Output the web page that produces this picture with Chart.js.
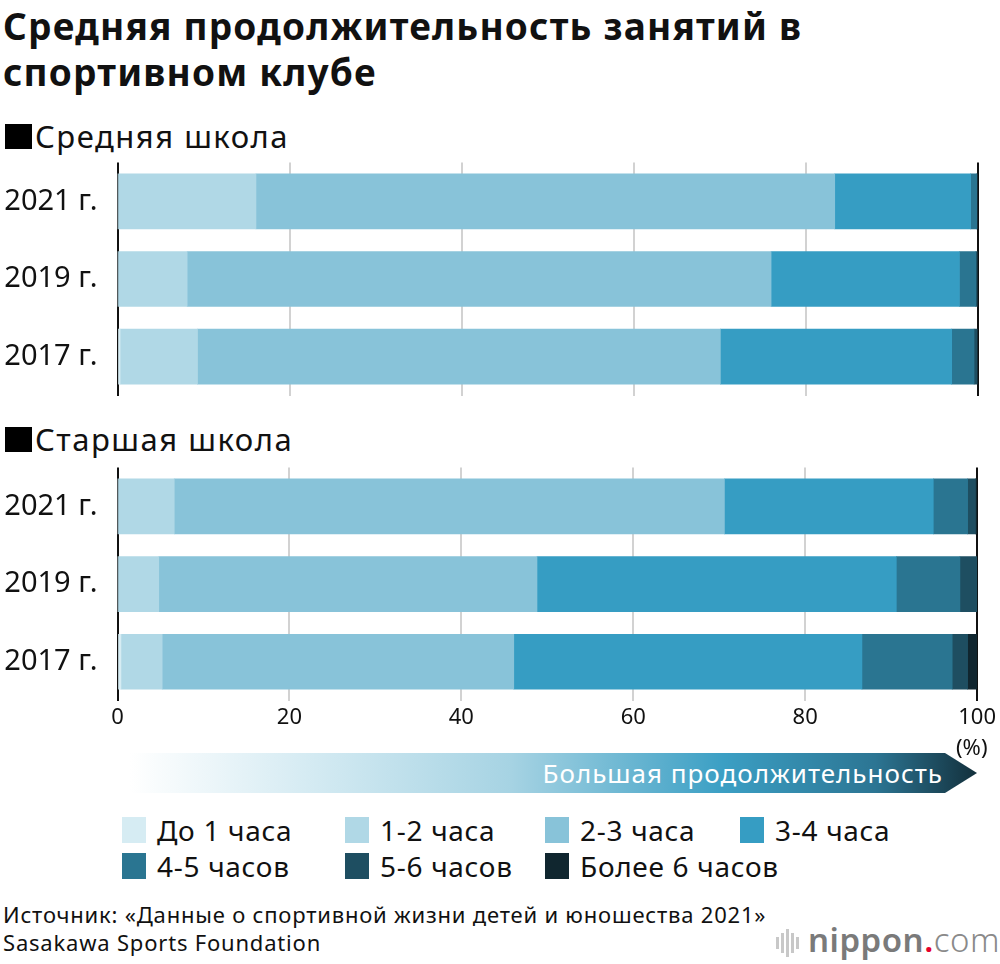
<!DOCTYPE html>
<html>
<head>
<meta charset="utf-8">
<script src="https://cdn.jsdelivr.net/npm/chart.js@4"></script>
<style>
  body { margin: 0; width: 1000px; height: 964px; background: #fff; font-family: "Noto Sans", "Open Sans", sans-serif; color: #111; position: relative; overflow: hidden; }
  .abs { position: absolute; }
  #title { left: 3px; top: 3px; font-size: 37px; font-weight: 700; line-height: 46px; letter-spacing: 1.2px; }
  .section { left: 5px; font-size: 31px; line-height: 36px; letter-spacing: 1.5px; white-space: nowrap; }
  .section .sq { display: inline-block; width: 27px; height: 25px; background: #000; margin-right: 3px; vertical-align: -1px; }
  #pct { left: 956px; top: 731px; font-size: 22px; }
  #arrow { left: 130px; top: 753px; width: 847px; height: 40px;
    background: linear-gradient(to right, rgba(255,255,255,1) 0%, #d3eaf2 22%, #a6d3e3 45%, #3b9fc4 70%, #2c7593 88%, #13303c 100%);
    clip-path: polygon(0 0, calc(100% - 32px) 0, 100% 50%, calc(100% - 32px) 100%, 0 100%);
    color: #fff; font-size: 26px; letter-spacing: 1px; line-height: 40px; text-align: right; box-sizing: border-box; padding-right: 34px; white-space: nowrap; }
  #legend .item { position: absolute; font-size: 28px; letter-spacing: 0.7px; line-height: 32px; white-space: nowrap; }
  #legend .sw { position: absolute; left: 0; top: 3px; width: 24px; height: 26px; }
  #legend .lb { position: absolute; left: 35px; top: 0; }
  #source { left: 3px; top: 900px; font-size: 22px; letter-spacing: 0.8px; line-height: 28px; white-space: nowrap; }
  #logo { left: 808px; top: 920px; font-size: 33px; line-height: 40px; color: #7a7a7a; font-weight: 600; letter-spacing: 0.5px; }
  #logo .dot { color: #e5002d; }
  #logo .com { font-weight: 300; color: #8a8a8a; }
  .bar { position: absolute; width: 3px; background: #c8c8c8; }
</style>
</head>
<body>
<div id="title" class="abs">Средняя продолжительность занятий в<br>спортивном клубе</div>
<div class="abs section" style="top:118px;"><span class="sq"></span>Средняя школа</div>
<div class="abs" style="left:0;top:147.5px;width:1000px;height:262px;"><canvas id="chartMiddle"></canvas></div>
<div class="abs section" style="top:421px;"><span class="sq"></span>Старшая школа</div>
<div class="abs" style="left:0;top:452.5px;width:1000px;height:282px;"><canvas id="chartHigh"></canvas></div>
<div id="pct" class="abs">(%)</div>
<div id="arrow" class="abs">Большая продолжительность</div>
<div id="legend"></div>
<div id="source" class="abs">Источник: «Данные о спортивной жизни детей и юношества 2021»<br>Sasakawa Sports Foundation</div>
<div id="logoIcon"></div>
<div id="logo" class="abs">nippon<span class="dot">.</span><span class="com">com</span></div>

<script>
"use strict";

const YEARS = ['2021 г.', '2019 г.', '2017 г.'];
const DURATIONS = ['До 1 часа', '1-2 часа', '2-3 часа', '3-4 часа', '4-5 часов', '5-6 часов', 'Более 6 часов'];
const X_TICKS = [0, 20, 40, 60, 80, 100];

// middle school, one array per duration: [2021, 2019, 2017]
const middleUnder1 = [0, 0, 0.3];
const middle1to2 = [16.1, 8.1, 9.0];
const middle2to3 = [67.3, 67.9, 60.8];
const middle3to4 = [15.8, 21.9, 26.9];
const middle4to5 = [0.7, 1.9, 2.6];
const middle5to6 = [0.1, 0.2, 0.4];
const middleOver6 = [0, 0, 0];

// high school
const highUnder1 = [0, 0, 0.4];
const high1to2 = [6.6, 4.8, 4.8];
const high2to3 = [64.0, 44.0, 40.9];
const high3to4 = [24.3, 41.8, 40.5];
const high4to5 = [4.0, 7.4, 10.5];
const high5to6 = [0.9, 2.0, 1.8];
const highOver6 = [0.2, 0, 1.1];

const COLORS = ['#d6ecf3', '#b0d8e6', '#88c3d9', '#369dc3', '#2a7591', '#1e4e61', '#10262f'];

const middleSeries = [middleUnder1, middle1to2, middle2to3, middle3to4, middle4to5, middle5to6, middleOver6];
const highSeries = [highUnder1, high1to2, high2to3, high3to4, high4to5, high5to6, highOver6];

const makeChart = (canvasId, series, showTicks) => {
  return new Chart(document.getElementById(canvasId), {
    type: 'bar',
    data: {
      labels: YEARS,
      datasets: series.map((values, i) => ({
        label: DURATIONS[i],
        data: values,
        backgroundColor: COLORS[i],
        borderWidth: 0,
        barThickness: 55
      }))
    },
    options: {
      indexAxis: 'y',
      responsive: true,
      maintainAspectRatio: false,
      animation: false,
      layout: { padding: { top: 0, bottom: 0, left: 0, right: 22.5 } },
      plugins: { legend: { display: false }, tooltip: { enabled: false } },
      scales: {
        x: {
          stacked: true,
          min: 0,
          max: 100,
          afterBuildTicks: (axis) => { axis.ticks = X_TICKS.map(v => ({ value: v })); },
          border: { display: false },
          grid: {
            drawTicks: false,
            color: (ctx) => (ctx.tick && (ctx.tick.value === 0 || ctx.tick.value === 100)) ? '#111' : '#d2d2d2',
            lineWidth: 2
          },
          ticks: {
            display: showTicks,
            padding: 4,
            color: '#111',
            font: { family: 'Noto Sans', size: 22 }
          }
        },
        y: {
          stacked: true,
          border: { display: false },
          // ticks not drawn, tickLength only pushes the labels left
          grid: { display: false, drawTicks: true, tickLength: 20 },
          afterFit: (axis) => { axis.width = 117.5; },
          ticks: {
            padding: 0,
            color: '#111',
            font: { family: 'Noto Sans', size: 29, lineHeight: 1 }
          }
        }
      }
    }
  });
};

makeChart('chartMiddle', middleSeries, false);
makeChart('chartHigh', highSeries, true);

// legend
const LEGEND_POS = [[122, 814], [345, 814], [545, 814], [740, 814], [122, 850], [345, 850], [545, 850]];
const legendEl = document.getElementById('legend');
legendEl.innerHTML = DURATIONS.map((name, i) =>
  `<div class="item" style="left:${LEGEND_POS[i][0]}px;top:${LEGEND_POS[i][1]}px;">
    <span class="sw" style="background:${COLORS[i]}"></span><span class="lb">${name}</span>
  </div>`).join('');

// small logo icon bars
const iconBars = [[776, 12], [781, 20], [786, 28], [791, 20], [796, 12]];
document.getElementById('logoIcon').innerHTML = iconBars.map(([x, h]) =>
  `<div class="bar" style="left:${x}px;top:${943 - h / 2}px;height:${h}px;"></div>`).join('');
</script>
</body>
</html>
